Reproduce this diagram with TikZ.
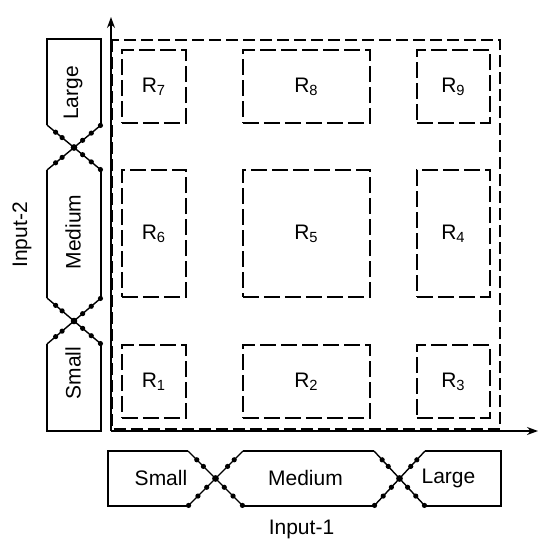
\documentclass[tikz,border=0pt]{standalone}
\usepackage{fontspec}
\setmainfont{Liberation Sans}
\usetikzlibrary{arrows.meta,decorations.markings}
\tikzset{
	fuzzyedge/.style={line width=0.7pt, decoration={markings,
		mark=at position 0.16 with {\fill circle (1.3pt);},
		mark=at position 0.28 with {\fill circle (1.3pt);},
		mark=at position 0.5 with {\fill circle (1.6pt);},
		mark=at position 0.66 with {\fill circle (1.3pt);},
		mark=at position 0.82 with {\fill circle (1.3pt);},
		mark=at position 0.99 with {\fill circle (1.3pt);}}, postaction=decorate},
	region/.style={draw, line width=0.6pt, dash pattern=on 8pt off 2.5pt, inner sep=0pt},
}

\begin{document}
\begin{tikzpicture}[x=0.5pt, y=-0.5pt, line width=0.6pt, font=\fontsize{10.5}{12}\selectfont]
			%%%%% START %%%%%
			\useasboundingbox (0, 0) rectangle (539, 543);
			
			\coordinate (O) at (111, 431);
			\coordinate (xtip) at (538, 431);
			\coordinate (ytip) at (111, 17);
			\draw[-{Stealth[length=5.5pt, width=4pt]}] (O) -- (xtip);
			\draw[-{Stealth[length=5.5pt, width=4pt]}] (O) -- (ytip);
			
			\draw[dash pattern=on 6pt off 2.5pt] (112, 40) rectangle (500, 429);
			
			\node[region, minimum width=32pt, minimum height=36.5pt] (R7) at (154, 86.5) {R\textsubscript{7}};
			\node[region, minimum width=63.5pt, minimum height=36.5pt] (R8) at (306.5, 86.5) {R\textsubscript{8}};
			\node[region, minimum width=36.5pt, minimum height=36.5pt] (R9) at (453.5, 86.5) {R\textsubscript{9}};
			\node[region, minimum width=32pt, minimum height=63.5pt] (R6) at (154, 233.5) {R\textsubscript{6}};
			\node[region, minimum width=63.5pt, minimum height=63.5pt] (R5) at (306.5, 233.5) {R\textsubscript{5}};
			\node[region, minimum width=36.5pt, minimum height=63.5pt] (R4) at (453.5, 233.5) {R\textsubscript{4}};
			\node[region, minimum width=32pt, minimum height=36.5pt] (R1) at (154, 381.5) {R\textsubscript{1}};
			\node[region, minimum width=63.5pt, minimum height=36.5pt] (R2) at (306.5, 381.5) {R\textsubscript{2}};
			\node[region, minimum width=36.5pt, minimum height=36.5pt] (R3) at (453.5, 381.5) {R\textsubscript{3}};
			
			% input-1 sets
			\draw (188, 451) -- (108, 451) -- (108, 506) -- (188, 506);
			\draw (243, 451) -- (374, 451);
			\draw (243, 506) -- (374, 506);
			\draw (425, 451) -- (501, 451) -- (501, 506) -- (425, 506);
			\draw[fuzzyedge] (188, 451) -- (243, 506);
			\draw[fuzzyedge] (243, 451) -- (188, 506);
			\draw[fuzzyedge] (374, 451) -- (425, 506);
			\draw[fuzzyedge] (425, 451) -- (374, 506);
			
			\node (small1) at (161, 478) {Small};
			\node (medium1) at (305.5, 478) {Medium};
			\node (large1) at (448.5, 478) {Large};
			\node (input1) at (301.5, 529) {Input-1};
			
			% input-2 sets
			\draw (47, 125) -- (47, 39) -- (101, 39) -- (101, 125);
			\draw (47, 170) -- (47, 298);
			\draw (101, 170) -- (101, 298);
			\draw (47, 344) -- (47, 431) -- (101, 431) -- (101, 344);
			\draw[fuzzyedge] (47, 125) -- (101, 170);
			\draw[fuzzyedge] (47, 170) -- (101, 125);
			\draw[fuzzyedge] (47, 298) -- (101, 344);
			\draw[fuzzyedge] (47, 344) -- (101, 298);
			
			\node[rotate=90] (large2) at (73, 93) {Large};
			\node[rotate=90] (medium2) at (73, 232) {Medium};
			\node[rotate=90] (small2) at (73, 373) {Small};
			\node[rotate=90] (input2) at (22, 235) {Input-2};
			
			%%%%% END %%%%%
\end{tikzpicture}
\end{document}
